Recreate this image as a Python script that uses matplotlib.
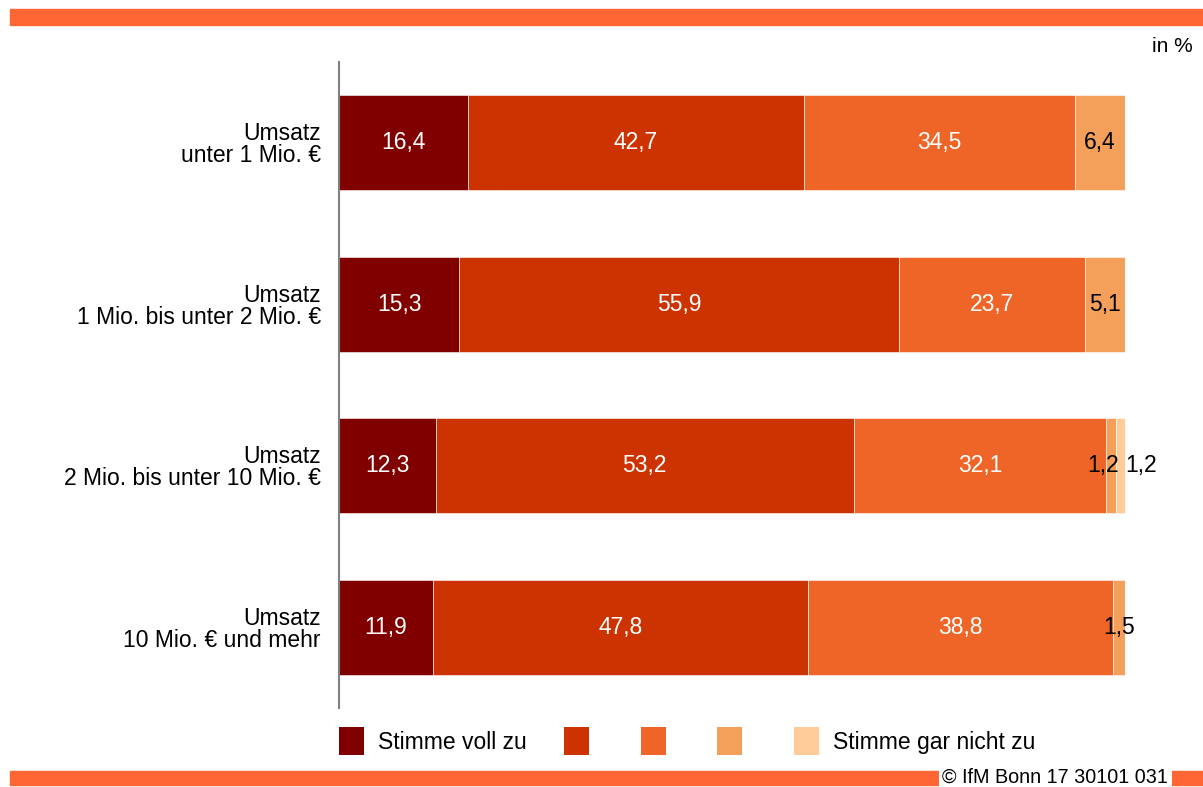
import matplotlib.pyplot as plt
from matplotlib.patches import Rectangle, Patch

plt.rcParams['font.family'] = ['Liberation Sans', 'DejaVu Sans']

categories = ['Umsatz\nunter 1 Mio. €',
              'Umsatz\n1 Mio. bis unter 2 Mio. €',
              'Umsatz\n2 Mio. bis unter 10 Mio. €',
              'Umsatz\n10 Mio. € und mehr']
series_names = ['Stimme voll zu', '', '', '', 'Stimme gar nicht zu']
s1 = [16.4, 15.3, 12.3, 11.9]
s2 = [42.7, 55.9, 53.2, 47.8]
s3 = [34.5, 23.7, 32.1, 38.8]
s4 = [6.4, 5.1, 1.2, 1.5]
s5 = [0, 0, 1.2, 0]
series = [s1, s2, s3, s4, s5]

colors = ['#800000', '#CC3300', '#EF6527', '#F5A05A', '#FFCC99']
text_colors = ['white', 'white', 'white', 'black', 'black']
band = '#FF6633'
fs = 16.5

fig = plt.figure(figsize=(12.03, 7.87), dpi=100)
ax = fig.add_axes([339/1203, 79/787, (1125-339)/1203, (725-79)/787])

left = [0] * len(categories)
for k, vals in enumerate(series):
    ax.barh(range(len(categories)), vals, left=left, height=0.587,
            color=colors[k], edgecolor='white', linewidth=0.4)
    for i, v in enumerate(vals):
        if v > 0:
            x = left[i] + v / 2
            # small adjacent segments in row 3 get their labels pushed apart
            if i == 2 and k == 3:
                x -= 1.0
            if i == 2 and k == 4:
                x += 2.6
            ax.text(x, i, f'{v:.1f}'.replace('.', ','), ha='center', va='center',
                    color=text_colors[k], fontsize=fs)
    left = [a + b for a, b in zip(left, vals)]

ax.set_xlim(0, 100)
ax.set_ylim(3.5, -0.5)
ax.set_yticks(range(len(categories)))
ax.set_yticklabels(categories, fontsize=fs, linespacing=0.95)
ax.tick_params(axis='y', length=0, pad=13)
ax.set_xticks([])
for s in ['top', 'right', 'bottom']:
    ax.spines[s].set_visible(False)
ax.spines['left'].set_color('#808080')
ax.spines['left'].set_linewidth(1.5)

fig.text(1193/1203, 1 - 47/787, 'in %', ha='right', va='center', fontsize=15)

# orange bands top and bottom
fig.patches.append(Rectangle((10/1203, 1 - 25/787), 1, 16/787,
                             transform=fig.transFigure, color=band, zorder=0))
fig.patches.append(Rectangle((10/1203, 1 - 785/787), 1, 14/787,
                             transform=fig.transFigure, color=band, zorder=0))
fig.text(1168/1203, 1 - 777/787, '© IfM Bonn 17 30101 031', ha='right', va='center',
         fontsize=14.2, bbox=dict(facecolor='white', edgecolor='none', pad=2.5))

handles = [Patch(facecolor=c) for c in colors]
fig.legend(handles, series_names, loc='center left',
           bbox_to_anchor=(339/1203, 1 - 741/787), ncol=5, frameon=False,
           fontsize=fs, handlelength=1.09, handleheight=1.5, handletextpad=0.6,
           columnspacing=1.65, borderpad=0, borderaxespad=0)

fig.savefig('out.png', dpi=100)
